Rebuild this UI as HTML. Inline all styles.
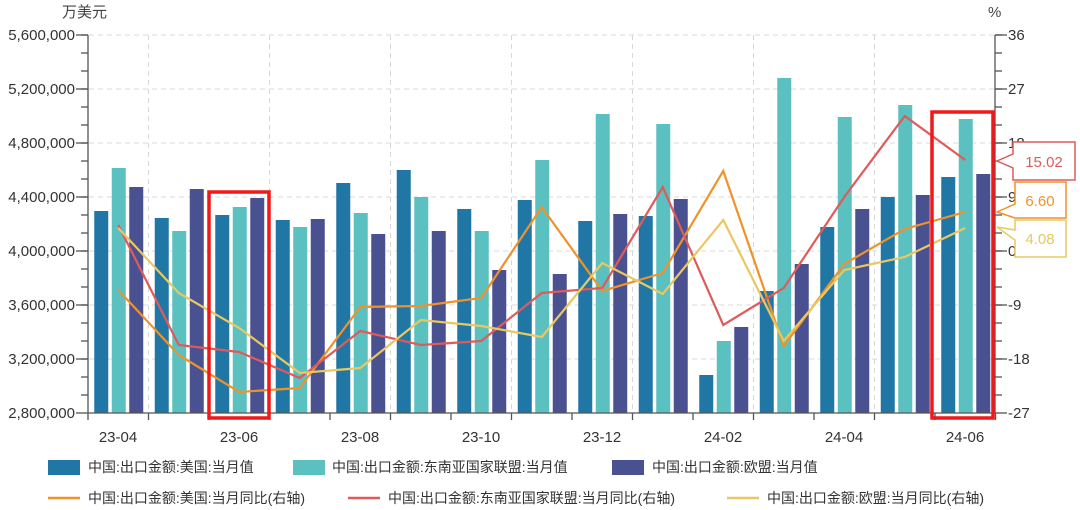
<!DOCTYPE html>
<html><head><meta charset="utf-8"><style>
body{margin:0;background:#fff;}
svg{display:block;font-family:"Liberation Sans","Noto Sans CJK SC",sans-serif;}
</style></head><body>
<svg id="s" width="1080" height="510" viewBox="0 0 1080 510">
<g id="grid" stroke="#d8d8d8" stroke-dasharray="5,4" stroke-width="1"></g>
<g id="bars"></g>
<g id="lines" fill="none" stroke-width="2.2"></g>
<g stroke="#555" stroke-width="1.3" id="axes">
<line x1="88" y1="35" x2="88" y2="413"/>
<line x1="995" y1="35" x2="995" y2="413"/>
<line x1="88" y1="413" x2="995" y2="413"/>
</g>
<g font-size="15" fill="#333" text-anchor="end">
<text x="75" y="40">5,600,000</text>
<text x="75" y="94">5,200,000</text>
<text x="75" y="148">4,800,000</text>
<text x="75" y="202">4,400,000</text>
<text x="75" y="256">4,000,000</text>
<text x="75" y="310">3,600,000</text>
<text x="75" y="364">3,200,000</text>
<text x="75" y="418">2,800,000</text>
</g>
<g font-size="15" fill="#333" text-anchor="start">
<text x="1008" y="40">36</text>
<text x="1008" y="94">27</text>
<text x="1008" y="148">18</text>
<text x="1008" y="202">9</text>
<text x="1008" y="256">0</text>
<text x="1008" y="310">-9</text>
<text x="1008" y="364">-18</text>
<text x="1008" y="418">-27</text>
</g>
<text x="62" y="17" font-size="15" fill="#444">万美元</text>
<text x="988" y="17" font-size="15" fill="#444">%</text>
<g font-size="15" fill="#333" text-anchor="middle">
<text x="118" y="442">23-04</text>
<text x="239" y="442">23-06</text>
<text x="360" y="442">23-08</text>
<text x="481" y="442">23-10</text>
<text x="602" y="442">23-12</text>
<text x="723" y="442">24-02</text>
<text x="844" y="442">24-04</text>
<text x="965" y="442">24-06</text>
</g>
<rect x="209" y="192" width="60" height="226" fill="none" stroke="#f01818" stroke-width="3.5"/>
<rect x="932" y="112" width="61" height="306" fill="none" stroke="#f01818" stroke-width="3.5"/>
<path d="M1013,142 H1075 V180 H1013 V168 L997,161 L1013,154 Z" fill="#fff" stroke="#e05a5a" stroke-width="1.5"/>
<text x="1044" y="167" font-size="15" fill="#e05a5a" text-anchor="middle">15.02</text>
<path d="M1015,182 H1066 V218 H1015 V218 L997,212 L1015,204 Z" fill="#fff" stroke="#f0922a" stroke-width="1.5"/>
<text x="1040" y="206" font-size="15" fill="#f0922a" text-anchor="middle">6.60</text>
<path d="M1015,220 H1066 V257 H1015 V240 L997,227 L1015,230 Z" fill="#fff" stroke="#e8c860" stroke-width="1.5"/>
<text x="1040" y="244" font-size="15" fill="#e8c860" text-anchor="middle">4.08</text>
<g font-size="14" fill="#333">
<rect x="48" y="460" width="32" height="15" fill="#2077a6"/><text x="88" y="472">中国:出口金额:美国:当月值</text>
<rect x="293" y="460" width="32" height="15" fill="#5bc0c0"/><text x="332" y="472">中国:出口金额:东南亚国家联盟:当月值</text>
<rect x="612" y="460" width="32" height="15" fill="#4a5190"/><text x="652" y="472">中国:出口金额:欧盟:当月值</text>
<line x1="48" y1="498" x2="80" y2="498" stroke="#f0922a" stroke-width="2.5"/><text x="88" y="503">中国:出口金额:美国:当月同比(右轴)</text>
<line x1="348" y1="498" x2="380" y2="498" stroke="#e05a5a" stroke-width="2.5"/><text x="388" y="503">中国:出口金额:东南亚国家联盟:当月同比(右轴)</text>
<line x1="727" y1="498" x2="759" y2="498" stroke="#e8c860" stroke-width="2.5"/><text x="767" y="503">中国:出口金额:欧盟:当月同比(右轴)</text>
</g>
</svg>
<script>
var NS="http://www.w3.org/2000/svg";
function el(p,t,a){var e=document.createElementNS(NS,t);for(var k in a)e.setAttribute(k,a[k]);document.getElementById(p).appendChild(e);return e;}
for(var y=35;y<413;y+=54)el("grid","line",{x1:89,y1:y,x2:994,y2:y});
for(var k=1;k<15;k+=2){var x=88+60.5*k;el("grid","line",{x1:x,y1:35,x2:x,y2:412});}
for(var y=35;y<=413;y+=54){el("axes","line",{x1:76,y1:y,x2:88,y2:y});el("axes","line",{x1:995,y1:y,x2:1007,y2:y});}
for(var y=35;y<413;y+=18){el("axes","line",{x1:81,y1:y,x2:88,y2:y});el("axes","line",{x1:995,y1:y,x2:1002,y2:y});}
for(var k=0;k<=15;k++){var x=88+60.5*k;el("axes","line",{x1:x,y1:413,x2:x,y2:420});}
var us=[211,218,215,220,183,170,209,200,221,216,375,291,227,197,177];
var as=[168,231,207,227,213,197,231,160,114,124,341,78,117,105,119];
var eu=[187,189,198,219,234,231,270,274,214,199,327,264,209,195,174];
var cols=["#2077a6","#5bc0c0","#4a5190"];
[us,as,eu].forEach(function(d,j){d.forEach(function(t,i){var c=88+30.25+60.5*i;el("bars","rect",{x:c-24+j*17.5,y:t,width:14,height:413-t,fill:cols[j]});});});
var lo=[290,355,392,388,307,306,298,207,291,273,171,346,264,229,212];
var lr=[225,345,352,378,331,345,341,293,288,187,325,288,197,116,160];
var ly=[228,293,328,373,368,320,326,337,263,294,220,341,270,257,228];
[[lo,"#f0922a"],[lr,"#e05a5a"],[ly,"#e8c860"]].forEach(function(p){el("lines","polyline",{points:p[0].map(function(v,i){return(118.25+60.5*i)+","+v}).join(" "),stroke:p[1]});});
</script>
</body></html>
